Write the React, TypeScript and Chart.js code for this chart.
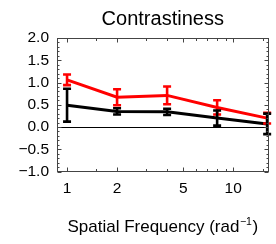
import React, { useEffect, useRef } from "react";
import { Chart, registerables } from "chart.js";

Chart.register(...registerables);

const TITLE = "Contrastiness";
const X_LABEL_MAIN = "Spatial Frequency (rad";
const X_LABEL_SUP = "\u22121";
const X_LABEL_END = ")";

const FREQ = [1, 2, 4, 8, 16];
const RED_MEAN = [1.06, 0.67, 0.71, 0.44, 0.2];
const RED_ERR = [0.12, 0.18, 0.2, 0.16, 0.12];
const BLACK_MEAN = [0.49, 0.35, 0.34, 0.2, 0.07];
const BLACK_ERR = [0.37, 0.07, 0.07, 0.17, 0.23];

const X_MIN = 0.87;
const X_MAX = 16.3;
const Y_MIN = -1;
const Y_MAX = 2;
const X_TICKS = [1, 2, 5, 10];
const X_MINOR = [1.5, 3, 4, 6, 7, 8, 9, 15];
const Y_TICKS = [-1, -0.5, 0, 0.5, 1, 1.5, 2];
const Y_MINOR = [-0.9, -0.8, -0.7, -0.6, -0.4, -0.3, -0.2, -0.1, 0.1, 0.2, 0.3, 0.4, 0.6, 0.7, 0.8, 0.9, 1.1, 1.2, 1.3, 1.4, 1.6, 1.7, 1.8, 1.9];

const FONT = "'Liberation Sans', Arial, sans-serif";
const RED = "#ff0000";
const BLACK = "#000000";

const framePlugin = {
  id: "framePlugin",
  beforeDatasetsDraw(chart: any) {
    const { ctx, chartArea: a, scales } = chart;
    const y = scales.y;
    ctx.save();
    ctx.strokeStyle = "#000";
    ctx.lineWidth = 1;
    const y0 = Math.round(y.getPixelForValue(0)) + 0.5;
    ctx.beginPath();
    ctx.moveTo(a.left, y0);
    ctx.lineTo(a.right, y0);
    ctx.stroke();
    ctx.restore();
  },
  afterDatasetsDraw(chart: any) {
    const { ctx, chartArea: a, scales } = chart;
    const x = scales.x;
    const y = scales.y;
    ctx.save();
    const sets = [
      { mean: RED_MEAN, err: RED_ERR, color: RED },
      { mean: BLACK_MEAN, err: BLACK_ERR, color: BLACK },
    ];
    ctx.lineWidth = 2.6;
    ctx.lineCap = "butt";
    for (const s of sets) {
      ctx.strokeStyle = s.color;
      for (let i = 0; i < FREQ.length; i++) {
        const px = x.getPixelForValue(FREQ[i]);
        const top = y.getPixelForValue(s.mean[i] + s.err[i]);
        const bot = y.getPixelForValue(s.mean[i] - s.err[i]);
        ctx.beginPath();
        ctx.moveTo(px, top);
        ctx.lineTo(px, bot);
        ctx.moveTo(px - 4, top);
        ctx.lineTo(px + 4, top);
        ctx.moveTo(px - 4, bot);
        ctx.lineTo(px + 4, bot);
        ctx.stroke();
      }
    }
    ctx.strokeStyle = "#444";
    ctx.lineWidth = 1;
    ctx.strokeRect(Math.round(a.left) + 0.5, Math.round(a.top) + 0.5, Math.round(a.right - a.left) - 1, Math.round(a.bottom - a.top) - 1);
    ctx.beginPath();
    const L = Math.round(a.left) + 0.5;
    const R = Math.round(a.right) - 0.5;
    const T = Math.round(a.top) + 0.5;
    const B = Math.round(a.bottom) - 0.5;
    const xt = (vals: number[], len: number) => {
      for (const v of vals) {
        const px = Math.round(x.getPixelForValue(v)) + 0.5;
        ctx.moveTo(px, B);
        ctx.lineTo(px, B - len);
        ctx.moveTo(px, T);
        ctx.lineTo(px, T + len);
      }
    };
    const yt = (vals: number[], len: number) => {
      for (const v of vals) {
        const py = Math.round(y.getPixelForValue(v)) + 0.5;
        ctx.moveTo(L, py);
        ctx.lineTo(L + len, py);
        ctx.moveTo(R, py);
        ctx.lineTo(R - len, py);
      }
    };
    xt(X_TICKS, 4);
    xt(X_MINOR, 2.5);
    yt(Y_TICKS, 4);
    yt(Y_MINOR, 2);
    ctx.stroke();
    ctx.restore();
  },
  afterDraw(chart: any) {
    const { ctx, chartArea: a } = chart;
    ctx.save();
    ctx.fillStyle = "#000";
    ctx.textBaseline = "alphabetic";
    const mainFont = `17px ${FONT}`;
    const supFont = `10.5px ${FONT}`;
    ctx.font = mainFont;
    const w1 = ctx.measureText(X_LABEL_MAIN).width;
    const w3 = ctx.measureText(X_LABEL_END).width;
    ctx.font = supFont;
    const w2 = ctx.measureText(X_LABEL_SUP).width;
    const total = w1 + w2 + w3 + 1;
    let cx = (a.left + a.right) / 2 - total / 2;
    const base = 232;
    ctx.font = mainFont;
    ctx.fillText(X_LABEL_MAIN, cx, base);
    cx += w1 + 0.5;
    ctx.font = supFont;
    ctx.fillText(X_LABEL_SUP, cx, base - 7.5);
    cx += w2 + 0.5;
    ctx.font = mainFont;
    ctx.fillText(X_LABEL_END, cx, base);
    ctx.restore();
  },
};

export default function App() {
  const ref = useRef<HTMLCanvasElement | null>(null);
  useEffect(() => {
    document.body.style.margin = "0";
    const canvas = ref.current!;
    const chart = new Chart(canvas, {
      type: "line",
      data: {
        datasets: [
          {
            label: "black",
            data: FREQ.map((f, i) => ({ x: f, y: BLACK_MEAN[i] })),
            borderColor: BLACK,
            borderWidth: 3,
            pointRadius: 0,
            fill: false,
            tension: 0,
          },
          {
            label: "red",
            data: FREQ.map((f, i) => ({ x: f, y: RED_MEAN[i] })),
            borderColor: RED,
            borderWidth: 3,
            pointRadius: 0,
            fill: false,
            tension: 0,
          },
        ],
      },
      options: {
        animation: false,
        responsive: false,
        devicePixelRatio: 1,
        layout: { padding: { left: 0, right: 7.5, top: 0, bottom: 0 } },
        plugins: {
          legend: { display: false },
          tooltip: { enabled: false },
          title: {
            display: true,
            text: TITLE,
            fullSize: false,
            color: "#000",
            font: { family: FONT, size: 20, weight: "normal" },
            padding: { top: 7, bottom: 7 },
          },
        },
        scales: {
          x: {
            type: "logarithmic",
            min: X_MIN,
            max: X_MAX,
            grid: { display: false, drawTicks: false },
            border: { display: false },
            afterBuildTicks: (s: any) => {
              s.ticks = X_TICKS.map((v) => ({ value: v }));
            },
            afterFit: (s: any) => {
              s.height = 72.5;
            },
            ticks: {
              autoSkip: false,
              maxRotation: 0,
              padding: 8,
              color: "#000",
              font: { family: FONT, size: 15.5 },
              callback: (v: any) => String(v),
            },
          },
          y: {
            type: "linear",
            min: Y_MIN,
            max: Y_MAX,
            grid: { display: false, drawTicks: false },
            border: { display: false },
            afterBuildTicks: (s: any) => {
              s.ticks = Y_TICKS.map((v) => ({ value: v }));
            },
            afterFit: (s: any) => {
              s.width = 57;
            },
            ticks: {
              padding: 8,
              color: "#000",
              font: { family: FONT, size: 15.5 },
              callback: (v: any) => Number(v).toFixed(1).replace("-", "\u2212"),
            },
          },
        },
      },
      plugins: [framePlugin],
    });
    return () => chart.destroy();
  }, []);
  return <canvas ref={ref} width={276} height={244} style={{ display: "block" }} />;
}
